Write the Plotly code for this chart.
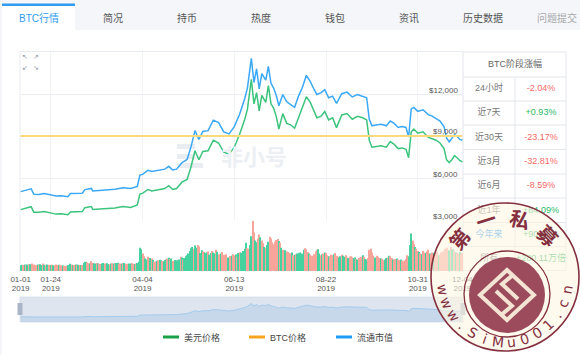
import math
import pandas as pd
import plotly.graph_objects as go

W, H = 580, 355
def X(p): return p / W
def Y(p): return 1 - p / H

# ---------------- data ----------------
price_dates = ["2019-01-01","2019-01-05","2019-01-07","2019-01-09","2019-01-11","2019-01-15","2019-01-19","2019-01-23","2019-01-28",
"2019-02-01","2019-02-06","2019-02-08","2019-02-12","2019-02-17","2019-02-19","2019-02-24","2019-02-25",
"2019-03-02","2019-03-08","2019-03-14","2019-03-20","2019-03-26","2019-03-31",
"2019-04-02","2019-04-04","2019-04-08","2019-04-11","2019-04-16","2019-04-21","2019-04-24","2019-04-27","2019-04-30",
"2019-05-04","2019-05-08","2019-05-11","2019-05-14","2019-05-17","2019-05-20","2019-05-24","2019-05-28",
"2019-06-01","2019-06-05","2019-06-09","2019-06-13","2019-06-17","2019-06-21","2019-06-23","2019-06-26","2019-06-28","2019-06-30",
"2019-07-02","2019-07-04","2019-07-07","2019-07-09","2019-07-11","2019-07-13","2019-07-15","2019-07-17","2019-07-20","2019-07-23","2019-07-26","2019-07-29",
"2019-08-01","2019-08-04","2019-08-07","2019-08-10","2019-08-13","2019-08-15","2019-08-18","2019-08-21","2019-08-24","2019-08-27","2019-08-30",
"2019-09-03","2019-09-07","2019-09-11","2019-09-15","2019-09-19","2019-09-22","2019-09-24","2019-09-26","2019-09-29",
"2019-10-03","2019-10-07","2019-10-10","2019-10-13","2019-10-16","2019-10-19","2019-10-22","2019-10-24","2019-10-26","2019-10-28","2019-10-31",
"2019-11-04","2019-11-08","2019-11-11","2019-11-14","2019-11-17","2019-11-20","2019-11-22","2019-11-24","2019-11-26","2019-11-28","2019-11-30",
"2019-12-02","2019-12-04"]

usd_price = [3740,3820,3900,3950,3560,3550,3600,3520,3420,
3440,3370,3580,3590,3600,3880,3960,3750,
3790,3830,3850,3960,3900,4080,
4850,4900,5180,5080,5180,5250,5450,5180,5250,
5700,5900,6800,7950,7300,7900,7950,8700,
8500,7850,7700,8200,9100,10200,10900,13050,11300,12100,
10800,11900,11400,12600,11300,11000,10400,9500,10600,9900,9800,9550,
10300,10900,11800,11400,10700,10300,10400,10750,10150,10300,9600,
10500,10600,10200,10400,10300,10150,8700,8200,8250,
8300,8200,8600,8400,8100,8150,8050,7450,9300,9500,9200,
9300,8900,8800,8700,8500,8100,7300,7100,7300,7600,7450,
7250,7150]

market_cap_b = [65,66.5,67.5,68.5,61.8,61.5,62.5,61,59.5,
59.8,58.5,62.5,62.8,63,67.5,69,65.8,
66.5,67.2,67.8,69.8,68.8,71.5,
85.5,86.5,91.5,90,91.8,93,96.5,92,93,
101,105,121,141,130,140,141,154,
151,139.5,137,146,161,181,194,231,201,218,
193,212,204,221,200,194,185,172,186,177,174,170,
184,195,210,202,192,186,188,192,182,184,175,
187,189,183,186,184,182,155,147,148,
149,147,153,150,145,146,145,133,168,170,165,
167,161,159,156,153,146,132,127,131,136,134,
130,129]

btc_dates = ["2019-01-01", "2019-12-04"]
btc_price_btc = [1, 1]

vol_by_month = {
 1: [5.2,5.8,5.6,6.0,5.4,5.9,6.3,6.1,5.7,6.8,6.0,5.5,5.3,5.9,5.7,6.1,5.6,6.9,5.8,5.4,5.9,5.6,5.8,5.5,5.7,5.4,5.2,5.9,5.6,5.8,5.5],
 2: [5.3,5.0,4.6,4.8,4.9,5.2,5.5,6.6,6.0,5.4,5.6,5.9,5.7,5.8,5.5,5.3,5.6,7.5,8.6,8.2,7.8,7.1,6.9,8.9,7.6,7.0,6.8,7.3],
 3: [6.9,6.6,6.4,6.8,7.4,7.0,6.7,7.2,6.5,6.3,6.9,7.1,6.8,7.0,7.3,7.5,6.6,6.8,7.0,7.2,7.4,6.7,6.5,0.0,6.9,6.8,7.1,6.6,6.4,6.9,7.3],
 4: [8.5,21.5,20.0,16.0,13.5,11.5,10.5,13.0,11.8,12.0,11.5,10.2,8.6,8.9,9.5,9.8,10.4,10.0,9.2,9.0,9.8,10.6,11.5,12.2,11.0,11.6,9.2,9.0,10.2,9.8],
 5: [9.5,10.5,13.0,12.5,10.5,12.0,13.5,14.5,16.0,18.5,21.0,22.0,20.5,23.5,21.5,24.0,22.5,16.5,19.0,18.0,17.5,16.8,17.2,18.0,15.0,16.5,18.5,17.0,16.2,19.5,17.8],
 6: [15.5,14.0,16.2,17.5,15.0,14.8,15.5,12.5,12.0,13.8,14.2,15.5,14.5,15.2,13.0,16.5,17.2,16.8,15.5,18.5,20.5,26.0,21.0,20.5,24.0,32.0,46.0,35.5,28.0,26.5],
 7: [30.0,33.5,31.0,28.0,25.5,22.0,21.5,24.0,27.0,31.5,30.0,26.5,24.5,27.0,28.5,29.5,27.5,26.0,21.5,19.5,18.5,19.0,18.0,17.5,16.5,16.0,17.0,14.5,15.0,15.5,16.0],
 8: [16.5,17.0,15.5,16.0,19.5,21.0,20.0,17.5,16.0,15.0,14.0,13.5,15.5,18.0,19.5,20.0,16.0,14.5,15.5,16.0,17.0,16.5,14.5,13.5,13.0,15.0,14.5,15.5,16.5,14.0,13.0],
 9: [12.5,13.5,15.0,14.0,13.0,14.5,12.5,12.0,13.0,13.5,12.5,12.0,12.5,11.0,10.5,12.0,12.5,13.0,14.5,13.0,11.0,10.5,12.0,19.5,20.5,17.0,14.0,12.5,12.0,14.0],
 10: [13.0,12.0,11.5,11.0,10.0,10.5,12.0,12.5,14.0,13.5,12.0,10.5,10.0,11.0,11.5,10.5,10.0,10.5,9.5,9.0,10.0,11.0,14.5,13.5,24.0,34.5,28.0,24.5,22.0,20.5,18.5],
 11: [17.5,16.0,15.5,18.5,17.0,16.5,18.0,19.5,16.0,15.5,17.0,16.5,15.5,16.0,17.5,14.5,15.0,17.0,18.0,17.5,20.5,21.5,18.0,19.0,22.0,19.5,20.0,18.5,17.0,16.5],
 12: [16.0,17.5,15.5,16.5],
}
dir_by_month = {
 1: "uudududuud" "ddduduudud" "uudududddu" "d",
 2: "duddduuudu" "dudududuuu" "ddudduud",
 3: "udduudduud" "ududuuddud" "uddduuddud" "u",
 4: "uuudduuddu" "dudduduudu" "uudududduu",
 5: "uududuuuuu" "uuduudduud" "duuduuduud" "u",
 6: "ddudddduud" "uddududuuu" "uudduudduu",
 7: "ddudduduud" "ddddddudud" "duddddudud" "u",
 8: "uuuuudddud" "ddddduudud" "uddudddudd" "d",
 9: "uuduuddudd" "duududddud" "uuddddduud",
 10: "ddudduudud" "dudduddudd" "ddduuuddud" "d",
 11: "ududduddud" "dudddudddd" "ddduduudud",
 12: "dudd",
}

tick_dates = ["2019-01-01","2019-01-24","2019-04-04","2019-06-13","2019-08-22","2019-10-31","2019-12-04"]
tick_md = ["01-01","01-24","04-04","06-13","08-22","10-31","12-04"]
price_ticks = [3000, 6000, 9000, 12000]
price_tick_text = ["$3,000", "$6,000", "$9,000", "$12,000"]
tabs = ["BTC行情", "简况", "持币", "热度", "钱包", "资讯", "历史数据", "问题提交"]
table_title = "BTC阶段涨幅"
table_labels = ["24小时", "近7天", "近30天", "近3月", "近6月", "近1年", "今年来", "所有"]
table_values = ["-2.04%", "+0.93%", "-23.17%", "-32.81%", "-8.59%", "+84.09%", "+90.95%", "+280.11万倍"]
legend_names = ["美元价格", "BTC价格", "流通市值"]

# ---------------- styles ----------------
FONT = "Liberation Sans, Noto Sans CJK SC, sans-serif"
GREEN_LINE = "#3cc47c"
BLUE_LINE = "#3aa8f5"
YELLOW_LINE = "#fbda7c"
UP = "#45d29f"
DN = "#f7a59b"
LEG_COLORS = ["#1aa048", "#f7a51e", "#1e9df2"]
MAROON = "#84303f"

vol_dates, vols, vcols = [], [], []
for m in range(1, 13):
    v = vol_by_month[m]
    d = dir_by_month[m]
    ds = pd.date_range(f"2019-{m:02d}-01", periods=len(v), freq="D")
    for i, val in enumerate(v):
        vol_dates.append(ds[i])
        vols.append(val)
        vcols.append(UP if (i < len(d) and d[i] == "u") else DN)

xr = ["2018-12-31 12:00", "2019-12-04 12:00"]
xdom = [X(20), X(463)]
date_px = {d: 20 + (pd.Timestamp(d) - pd.Timestamp(xr[0])).total_seconds() / 86400 * 443 / 338 for d in tick_dates}

fig = go.Figure()
fig.add_trace(go.Scatter(x=price_dates, y=usd_price, mode="lines", line=dict(color=GREEN_LINE, width=1.5),
                         xaxis="x", yaxis="y", hoverinfo="skip"))
fig.add_trace(go.Scatter(x=btc_dates, y=btc_price_btc, mode="lines", line=dict(color=YELLOW_LINE, width=2),
                         xaxis="x", yaxis="y3", hoverinfo="skip"))
fig.add_trace(go.Scatter(x=price_dates, y=market_cap_b, mode="lines", line=dict(color=BLUE_LINE, width=1.5),
                         xaxis="x", yaxis="y2", hoverinfo="skip"))
fig.add_trace(go.Bar(x=vol_dates, y=vols, marker=dict(color=vcols, line=dict(width=0)),
                     xaxis="x2", yaxis="y4", hoverinfo="skip"))
fig.add_trace(go.Scatter(x=price_dates, y=market_cap_b, mode="lines", line=dict(color="#a3cbee", width=1),
                         fill="tozeroy", fillcolor="rgba(170,200,228,0.45)",
                         xaxis="x3", yaxis="y5", hoverinfo="skip"))

# texts that the stamp should cover: a text layer in pixel space (x4/y6)
tx, ty, tt, tc, ts = [], [], [], [], []
def ptext(x, y, s, size=9, color="#555"):
    tx.append(x); ty.append(y); tt.append(s); tc.append(color); ts.append(size)
for d, s in zip(tick_dates, tick_md):
    ptext(date_px[d], 280, s, 8, "#555")
    ptext(date_px[d], 288.5, "2019", 8, "#555")
ptext(515, 64.5, table_title, 9, "#666")
row_c = [89, 113, 137.25, 161.75, 186, 210.25, 234.5, 258.5]
for yy, lab, val in zip(row_c, table_labels, table_values):
    ptext(489, yy, lab, 9, "#2d9cf3" if lab == "今年来" else "#777")
    ptext(541, yy, val, 9, "#f46a68" if val.startswith("-") else "#2bb866")
fig.add_trace(go.Scatter(x=tx, y=ty, text=tt, mode="text", textposition="middle center",
                         textfont=dict(color=tc, size=ts, family=FONT),
                         xaxis="x4", yaxis="y6", hoverinfo="skip", cliponaxis=False))

shapes = []
def rect(x0, y0, x1, y1, fill, line_color=None, lw=0, layer="below"):
    shapes.append(dict(type="rect", xref="paper", yref="paper", x0=X(x0), x1=X(x1), y0=Y(y1), y1=Y(y0),
                       fillcolor=fill, line=dict(color=line_color or fill, width=lw), layer=layer))
def hline(x0, x1, y, color, w=1, layer="below"):
    shapes.append(dict(type="line", xref="paper", yref="paper", x0=X(x0), x1=X(x1), y0=Y(y), y1=Y(y),
                       line=dict(color=color, width=w), layer=layer))
def vline(x, y0, y1, color, w=1, layer="below"):
    shapes.append(dict(type="line", xref="paper", yref="paper", x0=X(x), x1=X(x), y0=Y(y0), y1=Y(y1),
                       line=dict(color=color, width=w), layer=layer))
def circle(cx, cy, r, fill="rgba(0,0,0,0)", lc="rgba(0,0,0,0)", lw=0, layer="above"):
    shapes.append(dict(type="circle", xref="paper", yref="paper", x0=X(cx - r), x1=X(cx + r),
                       y0=Y(cy + r), y1=Y(cy - r), fillcolor=fill, line=dict(color=lc, width=lw), layer=layer))
def path(pts, lc, lw, fill="rgba(0,0,0,0)", layer="above", close=True):
    s = "M " + " L ".join(f"{X(a):.5f},{Y(b):.5f}" for a, b in pts) + (" Z" if close else "")
    shapes.append(dict(type="path", xref="paper", yref="paper", path=s, fillcolor=fill,
                       line=dict(color=lc, width=lw), layer=layer))

# tab bar
rect(0, 0, 580, 30, "#f4f6fa")
rect(2, 4, 75, 30, "#ffffff")
rect(2, 3.5, 75, 6, "#2f9cf0")
rect(0, 30, 2, 355, "#f3f5f9")
# chart frame
hline(20, 463, 51.5, "#e8ebf1")
vline(20, 51.5, 272, "#e8ebf1")
# table
rect(463, 52, 566, 270.5, "rgba(0,0,0,0)", "#e3e6ee", 1)
for yy in [77, 101, 125, 149.5, 174, 198, 222.5, 246.5]:
    hline(463, 566, yy, "#e3e6ee")
vline(515, 77, 270.5, "#e3e6ee")
# watermark logo bars
rect(177, 144, 195, 149, "#e9ecf1")
rect(177, 154, 195, 159, "#e9ecf1")
rect(177, 163, 203, 168, "#e9ecf1")
# slider
rect(20, 297, 463, 322, "#dfe5ee", "#d6dde8", 0.8)
rect(17.5, 303, 22.5, 315, "#a9b6c8")
rect(460.5, 303, 465.5, 315, "#a9b6c8")
# legend swatches
for (x0, x1), c in zip([(163, 179), (249, 265), (336, 352)], LEG_COLORS):
    rect(x0, 335.5, x1, 338.5, c)

# stamp
cx, cy = 505, 277
circle(cx, cy, 74, fill="rgba(255,247,226,0.6)", lc=MAROON, lw=1.6)
circle(507, 294, 43, lc=MAROON, lw=1.3)
circle(507, 295, 38, fill="#9c4b5d")
CREAM = "#f3e4d4"
dx, dy = 507, 295
path([(dx, dy - 25), (dx + 27, dy), (dx, dy + 25), (dx - 27, dy)], CREAM, 4)
path([(dx - 11, dy - 4), (dx + 5, dy + 11), (dx - 6, dy + 20)], CREAM, 4, close=False)
path([(dx + 11, dy + 4), (dx - 5, dy - 11), (dx + 6, dy - 20)], CREAM, 4, close=False)

annotations = []
def text(x, y, s, size=9, color="#555", xanchor="center", yanchor="middle", angle=0, family=FONT):
    annotations.append(dict(x=X(x), y=Y(y), xref="paper", yref="paper", text=s,
                            showarrow=False, xanchor=xanchor, yanchor=yanchor, textangle=angle,
                            font=dict(size=size, color=color, family=family)))

# tabs
for i, t in enumerate(tabs):
    col = "#2f9cf0" if i == 0 else ("#aaaaaa" if i == len(tabs) - 1 else "#555555")
    text(39 + 74 * i, 18, t, size=10, color=col)
# corner icons
for (ix, iy), g in zip([(25, 57), (36, 57), (25, 68), (36, 68)], ["↖", "↗", "↙", "↘"]):
    text(ix, iy, g, size=7, color="#8c95a3", family="DejaVu Sans")
# watermark
text(254, 157, "<b>非小号</b>", size=22, color="#eceff3")
# price labels
for v, s in zip(price_ticks, price_tick_text):
    ypx = 220 - (v - 3000) * 168 / 12000
    text(460, ypx - 4, s, size=8, color="#555", xanchor="right")
# legend text
for x0, s in zip([182, 268, 355], legend_names):
    text(x0, 337, s, size=9, color="#444", xanchor="left")

# stamp text
for ch, ang in zip("第一私募", [140, 108, 76, 44]):
    a = math.radians(ang)
    px_, py_ = cx + 60 * math.cos(a), cy - 60 * math.sin(a)
    text(px_, py_, f"<b>{ch}</b>", size=20, color=MAROON, angle=90 - ang, family="Noto Sans CJK SC")
s2 = "www.SiMu001.cn"
bx, by = 505, 279
for i, ch in enumerate(s2):
    ang = 190 + i * (350 - 190) / (len(s2) - 1)
    a = math.radians(ang)
    px_, py_ = bx + 63 * math.cos(a), by - 63 * math.sin(a)
    text(px_, py_, ch, size=14, color=MAROON, angle=270 - ang, family="DejaVu Sans")

fig.update_layout(
    width=W, height=H, margin=dict(l=0, r=0, t=0, b=0),
    paper_bgcolor="#ffffff", plot_bgcolor="rgba(0,0,0,0)",
    showlegend=False, hovermode=False, bargap=0.22,
    font=dict(family=FONT),
    xaxis=dict(domain=xdom, range=xr, anchor="y", tickvals=tick_dates, showticklabels=False,
               showgrid=True, gridcolor="#f1f2f5", gridwidth=1, zeroline=False, showline=False, ticks=""),
    yaxis=dict(domain=[Y(220), Y(52)], range=[3000, 15000], tickvals=price_ticks, showticklabels=False,
               showgrid=True, gridcolor="#eceef3", zeroline=False, showline=False, ticks=""),
    yaxis2=dict(overlaying="y", range=[29.6, 239], visible=False),
    yaxis3=dict(overlaying="y", range=[0, 2], visible=False),
    xaxis2=dict(domain=xdom, range=xr, anchor="y4", visible=False),
    yaxis4=dict(domain=[Y(271), Y(221)], range=[0, 46], visible=False),
    xaxis3=dict(domain=xdom, range=xr, anchor="y5", visible=False),
    yaxis5=dict(domain=[Y(322), Y(297)], range=[0, 312], visible=False),
    xaxis4=dict(domain=[0, 1], range=[0, W], anchor="y6", visible=False),
    yaxis6=dict(domain=[0, 1], range=[H, 0], visible=False),
    shapes=shapes, annotations=annotations,
)
fig.write_html("out.html")
